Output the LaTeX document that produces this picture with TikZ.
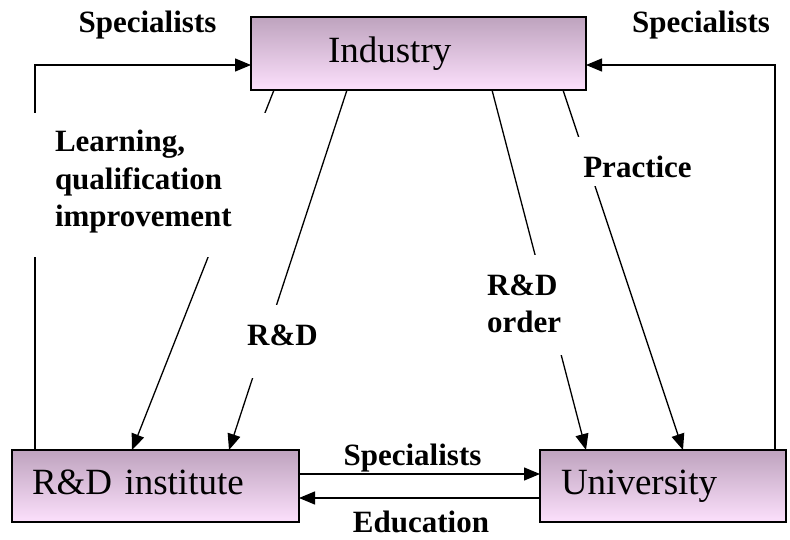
\documentclass[tikz,border=0pt]{standalone}
\usepackage{fontspec}
\setmainfont{Liberation Serif}
\usetikzlibrary{arrows.meta}
\definecolor{boxtop}{RGB}{190,163,190}
\definecolor{boxbot}{RGB}{252,224,252}
\begin{document}
\begin{tikzpicture}[x=1pt,y=-1pt,
  box/.style={draw=black, line width=1.4pt, top color=boxtop, bottom color=boxbot,
    outer sep=0pt, anchor=north west, align=left, inner ysep=0pt,
    text height=25.3pt, text depth=8pt, font=\fontsize{37}{40}\selectfont},
  conn/.style={line width=1.3pt, -{Triangle[length=16pt,width=13pt]}},
  lbl/.style={font=\bfseries\fontsize{31}{37.5}\selectfont, inner sep=0pt, outer sep=0pt},
  cover/.style={lbl, fill=white}
]
\useasboundingbox (0,0) rectangle (790,540);

% boxes
\node[box, minimum width=335pt, minimum height=73pt, inner xsep=77pt, text width=181pt] (ind) at (251,17) {Industry};
\node[box, minimum width=287pt, minimum height=72pt, inner xsep=20pt, text width=247pt] (rdi) at (12,450) {R\&D institute};
\node[box, minimum width=246pt, minimum height=72pt, inner xsep=21pt, text width=204pt] (uni) at (540,450) {University};

% connectors
\draw[conn] ([xshift=23pt]rdi.north west) |- ([yshift=-11.5pt]ind.west);
\draw[conn] ([xshift=235pt]uni.north west) |- ([yshift=-11.5pt]ind.east);
\draw[conn] ([xshift=23pt]ind.south west) -- ([xshift=120pt]rdi.north west);
\draw[conn] ([xshift=96pt]ind.south west) -- ([xshift=217pt]rdi.north west);
\draw[conn] ([xshift=241pt]ind.south west) -- ([xshift=46pt]uni.north west);
\draw[conn] ([xshift=312pt]ind.south west) -- ([xshift=143pt]uni.north west);
\draw[conn] ([yshift=12pt]rdi.east) -- ([yshift=12pt]uni.west);
\draw[conn] ([yshift=-12pt]uni.west) -- ([yshift=-12pt]rdi.east);

% labels
\node[cover, anchor=base west, inner xsep=23pt, text height=39pt, text depth=105pt] (learn) at (32,152)
  {\begin{tabular}[t]{@{}p{200pt}@{}}Learning,\\qualification\\improvement\end{tabular}};
\node[cover, anchor=base west, inner xsep=7pt, text height=40pt, text depth=60pt] (ord) at (480,295)
  {\begin{tabular}[t]{@{}l@{}}R\&D\\order\end{tabular}};
\node[cover, anchor=base, inner xsep=6pt, text height=40pt, text depth=33pt] (rd) at (282.5,345) {R\&D};
\node[cover, anchor=base, inner xsep=8pt, text height=41pt, text depth=8pt] (prac) at (637.5,178) {Practice};
\node[lbl, anchor=base] (s1) at (147.5,33) {Specialists};
\node[lbl, anchor=base] (s2) at (701,33) {Specialists};
\node[lbl, anchor=base] (s3) at (412.5,465) {Specialists};
\node[lbl, anchor=base] (edu) at (421,532) {Education};
\end{tikzpicture}
\end{document}
